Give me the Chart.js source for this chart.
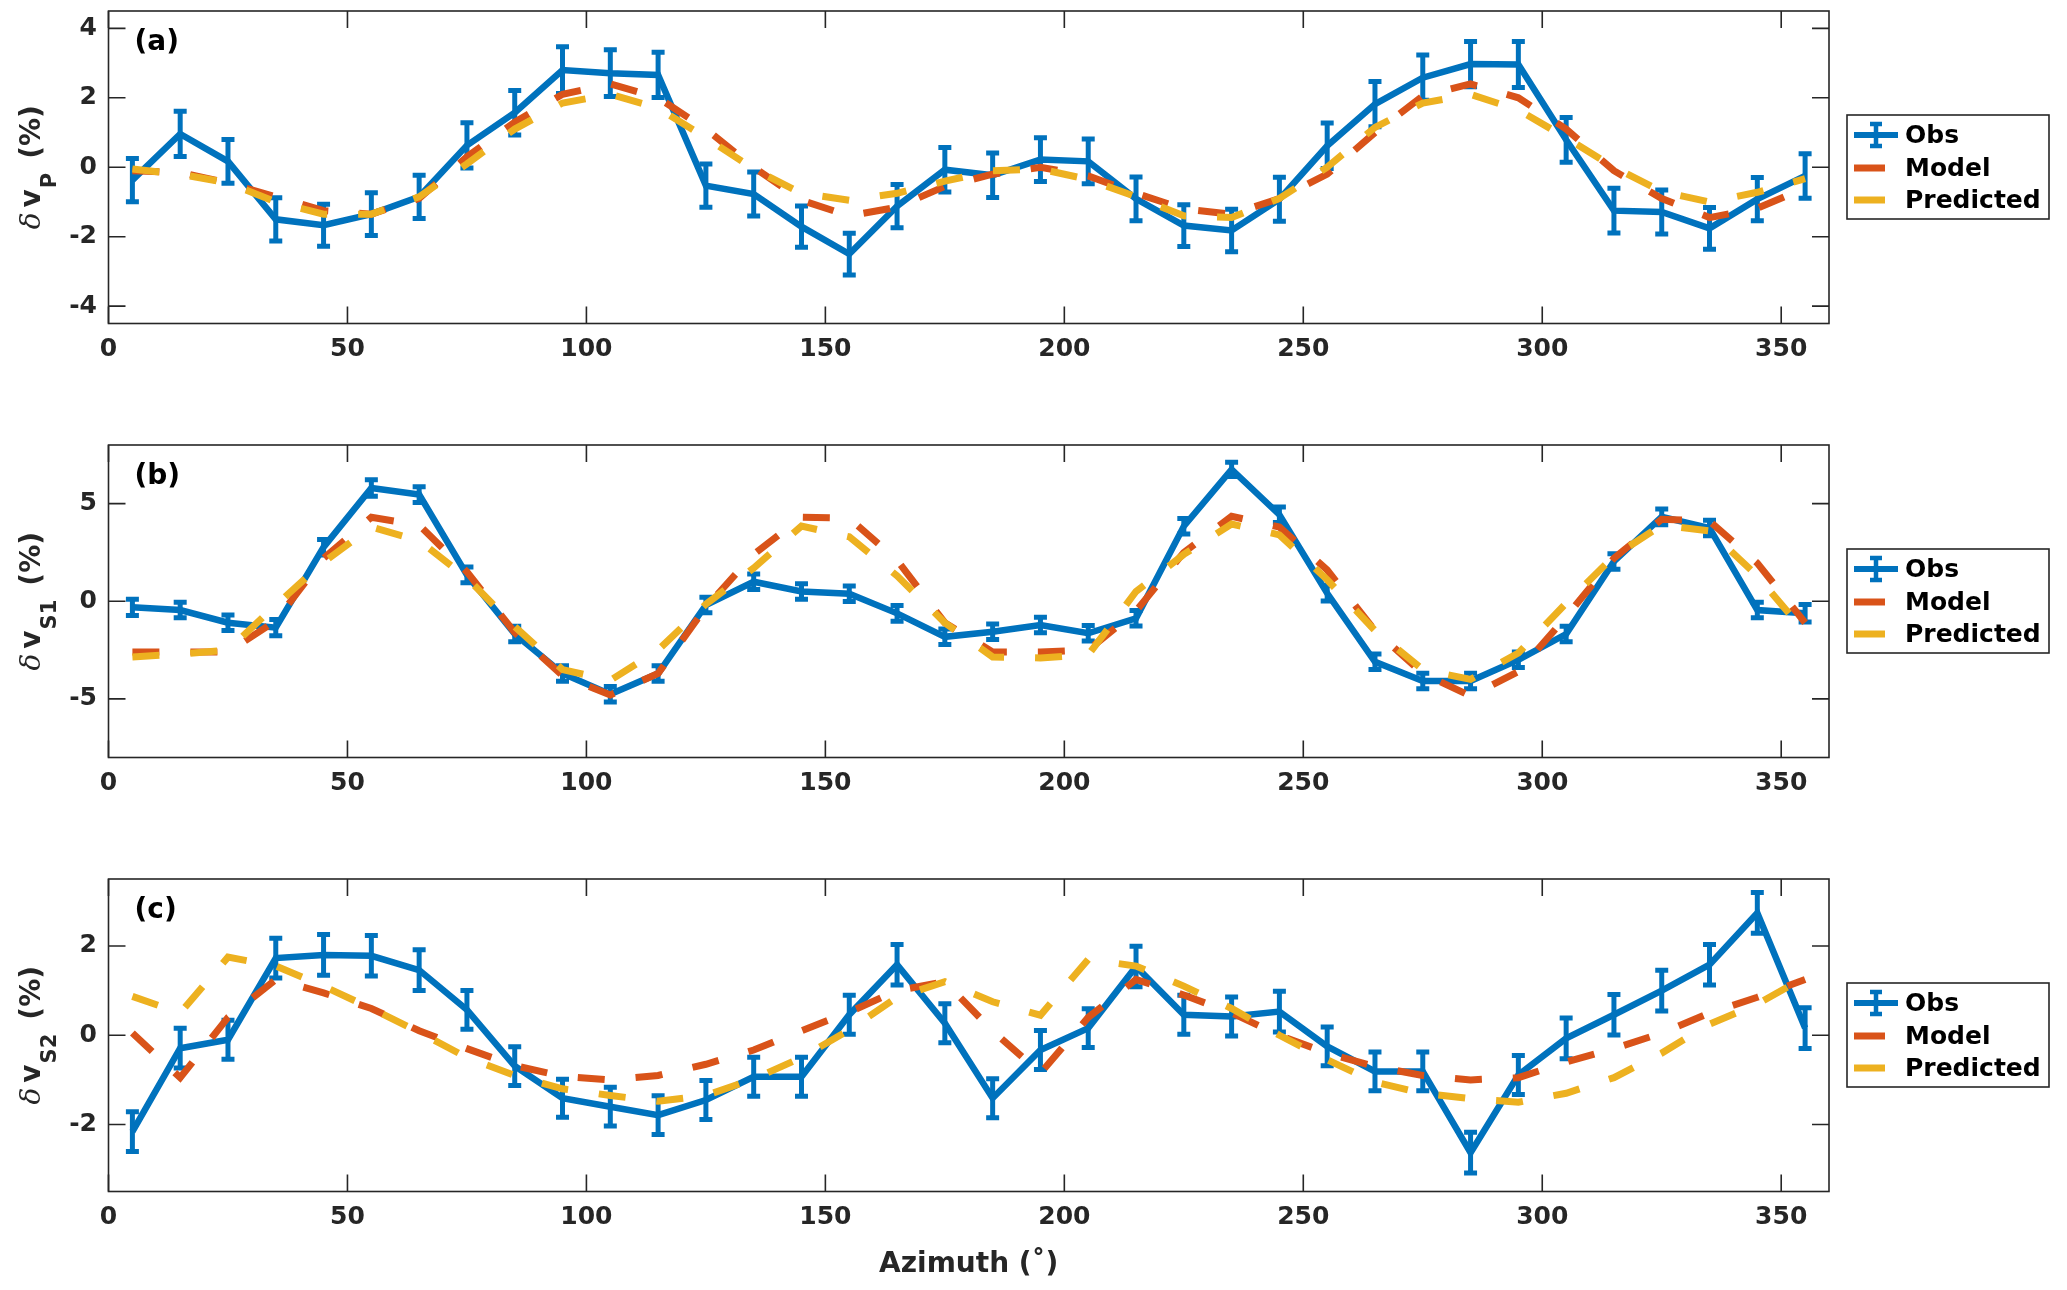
<!DOCTYPE html>
<html><head><meta charset="utf-8">
<script src="https://cdn.jsdelivr.net/npm/chart.js@4.4.1/dist/chart.umd.min.js"></script>
<style>
html,body{margin:0;padding:0;background:#fff;width:2067px;height:1290px;overflow:hidden}
canvas{position:absolute;left:0}
</style></head><body>
<canvas id="ca" width="2067" height="434" style="top:0px"></canvas>
<canvas id="cb" width="2067" height="434" style="top:434px"></canvas>
<canvas id="cc" width="2067" height="422" style="top:868px"></canvas>
<script>
// ---------- data ----------
const azimuth = [5,15,25,35,45,55,65,75,85,95,105,115,125,135,145,155,165,175,185,195,205,215,225,235,245,255,265,275,285,295,305,315,325,335,345,355];
const xTicks = [0,50,100,150,200,250,300,350];

// panel (a) dVp
const obsP   = [-0.37,0.96,0.17,-1.5,-1.67,-1.35,-0.85,0.63,1.57,2.8,2.71,2.66,-0.53,-0.77,-1.71,-2.5,-1.12,-0.07,-0.23,0.22,0.17,-0.91,-1.68,-1.82,-0.92,0.62,1.82,2.58,2.97,2.96,0.79,-1.25,-1.29,-1.76,-0.92,-0.25];
const errP   = [0.68,0.71,0.69,0.68,0.66,0.67,0.68,0.71,0.7,0.73,0.73,0.71,0.68,0.69,0.65,0.66,0.68,0.7,0.7,0.69,0.7,0.69,0.66,0.67,0.69,0.71,0.71,0.71,0.71,0.72,0.7,0.7,0.69,0.66,0.68,0.7];
const modelP = [-0.1,-0.15,-0.45,-0.85,-1.25,-1.35,-0.9,0.3,1.3,2.1,2.4,2.0,1.1,0.0,-0.95,-1.4,-1.15,-0.55,-0.2,0.0,-0.25,-0.75,-1.2,-1.35,-0.9,-0.2,1.0,2.05,2.4,2.0,1.1,-0.1,-0.9,-1.45,-1.18,-0.6];
const predP  = [-0.05,-0.2,-0.45,-1.0,-1.35,-1.35,-0.85,0.1,1.1,1.85,2.1,1.7,0.85,-0.05,-0.75,-0.95,-0.75,-0.4,-0.1,-0.05,-0.35,-0.85,-1.4,-1.45,-0.9,0.0,1.15,1.85,2.1,1.65,0.85,0.0,-0.7,-1.0,-0.72,-0.33];
const yTicksP = [-4,-2,0,2,4];

// panel (b) dVs1
const obsS1   = [-0.31,-0.45,-1.1,-1.35,2.77,5.8,5.46,1.35,-1.68,-3.7,-4.76,-3.7,-0.19,1.0,0.5,0.38,-0.62,-1.82,-1.56,-1.22,-1.64,-0.87,3.84,6.75,4.43,0.41,-3.1,-4.08,-4.08,-3.0,-1.68,2.04,4.32,3.75,-0.45,-0.62];
const errS1   = [0.52,0.5,0.5,0.52,0.5,0.52,0.5,0.5,0.5,0.5,0.5,0.5,0.5,0.5,0.5,0.5,0.5,0.5,0.5,0.5,0.5,0.5,0.5,0.47,0.5,0.5,0.5,0.5,0.5,0.5,0.5,0.5,0.5,0.5,0.5,0.55];
const modelS1 = [-2.6,-2.6,-2.6,-1.0,2.2,4.3,3.9,1.5,-1.6,-3.8,-4.8,-3.7,-0.3,2.4,4.3,4.25,2.1,-1.1,-2.6,-2.6,-2.5,-0.5,2.5,4.35,3.8,1.6,-1.5,-3.7,-4.85,-3.6,-0.8,2.2,4.2,4.1,1.95,-1.1];
const predS1  = [-2.85,-2.7,-2.5,-0.2,2.0,3.8,3.1,1.2,-1.3,-3.5,-4.05,-2.5,-0.15,1.7,3.85,3.3,1.3,-1.1,-2.85,-2.9,-2.75,0.5,2.4,3.95,3.4,1.1,-1.5,-3.5,-4.0,-2.65,-0.1,2.3,3.9,3.6,1.3,-1.6];
const yTicksS1 = [-5,0,5];

// panel (c) dVs2
const obsS2   = [-2.16,-0.29,-0.1,1.73,1.8,1.78,1.46,0.57,-0.69,-1.41,-1.6,-1.79,-1.45,-0.93,-0.93,0.46,1.58,0.27,-1.41,-0.33,0.16,1.54,0.46,0.42,0.53,-0.25,-0.81,-0.81,-2.63,-0.89,-0.07,0.46,1.0,1.58,2.74,0.16];
const errS2   = [0.49,0.49,0.48,0.49,0.5,0.5,0.5,0.48,0.48,0.47,0.48,0.48,0.48,0.48,0.48,0.48,0.5,0.48,0.48,0.48,0.48,0.5,0.48,0.48,0.5,0.48,0.48,0.48,0.5,0.48,0.5,0.5,0.5,0.5,0.5,0.5];
const modelS2 = [0.05,-0.95,0.4,1.25,0.95,0.6,0.1,-0.3,-0.68,-0.92,-1.0,-0.9,-0.65,-0.33,0.1,0.52,1.0,1.2,0.1,-0.85,0.4,1.25,0.9,0.5,0.0,-0.4,-0.7,-0.9,-1.0,-0.95,-0.6,-0.3,0.05,0.5,0.85,1.25];
const predS2  = [0.87,0.5,1.75,1.55,1.1,0.6,0.07,-0.5,-0.9,-1.2,-1.35,-1.48,-1.35,-0.98,-0.5,0.12,0.85,1.2,0.75,0.45,1.7,1.55,1.1,0.6,0.0,-0.55,-1.05,-1.3,-1.42,-1.5,-1.3,-0.95,-0.4,0.25,0.7,1.3];
const yTicksS2 = [-2,0,2];

const seriesNames = ['Obs','Model','Predicted'];
const xLabel = 'Azimuth (˚)';

// ---------- styles ----------
const C_OBS = '#0072BD', C_MOD = '#D95319', C_PRE = '#EDB120';
const AX = '#262626';
const FONT = "'DejaVu Sans', sans-serif";
const PLOT_TOP = 11, PLOT_BOTTOM = 323.5, PLOT_LEFT = 108.5, PLOT_RIGHT = 1829;

const pts = arr => azimuth.map((a, i) => ({x: a, y: arr[i]}));

const errorBars = {
  id: 'errorBars',
  afterDatasetDraw(chart, args) {
    const ds = chart.data.datasets[args.index];
    if (!ds.errors) return;
    const ys = chart.scales.y, ctx = chart.ctx, a = chart.chartArea;
    ctx.save();
    ctx.beginPath(); ctx.rect(a.left, a.top, a.right - a.left, a.bottom - a.top); ctx.clip();
    ctx.strokeStyle = ds.borderColor; ctx.lineWidth = 5; ctx.lineCap = 'butt';
    args.meta.data.forEach((p, i) => {
      const v = ds.data[i].y, e = ds.errors[i];
      const yt = ys.getPixelForValue(v + e), yb = ys.getPixelForValue(v - e);
      ctx.beginPath();
      ctx.moveTo(p.x, yt); ctx.lineTo(p.x, yb);
      ctx.moveTo(p.x - 6.5, yt + 2); ctx.lineTo(p.x + 6.5, yt + 2);
      ctx.moveTo(p.x - 6.5, yb - 2); ctx.lineTo(p.x + 6.5, yb - 2);
      ctx.stroke();
    });
    ctx.restore();
  }
};

const decor = {
  id: 'decor',
  beforeDatasetsDraw(chart) {
    const {ctx, chartArea: a, scales: {x, y}} = chart;
    ctx.save();
    ctx.strokeStyle = AX; ctx.lineWidth = 1.6;
    ctx.beginPath();
    const L = 17;
    x.ticks.forEach(t => { const px = x.getPixelForValue(t.value);
      ctx.moveTo(px, a.bottom); ctx.lineTo(px, a.bottom - L);
      ctx.moveTo(px, a.top); ctx.lineTo(px, a.top + L); });
    y.ticks.forEach(t => { const py = y.getPixelForValue(t.value);
      ctx.moveTo(a.left, py); ctx.lineTo(a.left + L, py);
      ctx.moveTo(a.right, py); ctx.lineTo(a.right - L, py); });
    ctx.stroke();
    ctx.strokeRect(a.left, a.top, a.right - a.left, a.bottom - a.top);
    ctx.restore();
  },
  afterDraw(chart, args, opts) {
    const {ctx, chartArea: a} = chart;
    ctx.save();
    // panel letter
    ctx.fillStyle = '#000';
    ctx.font = "bold 28px " + FONT;
    ctx.textBaseline = 'middle'; ctx.textAlign = 'left';
    ctx.fillText(opts.panel, a.left + 26, a.top + 32);

    // y label (rotated, with subscript)
    ctx.save();
    ctx.translate(39.5, (a.top + a.bottom) / 2);
    ctx.rotate(-Math.PI / 2);
    ctx.fillStyle = AX;
    ctx.textBaseline = 'alphabetic'; ctx.textAlign = 'left';
    const parts = [
      {t: 'δ', f: "italic 28px 'DejaVu Serif', serif", dy: 0, gap: 5},
      {t: 'v', f: "bold 28px " + FONT, dy: 0, gap: 1},
      {t: opts.sub, f: "bold 21px " + FONT, dy: 16, gap: 14},
      {t: '(%)', f: "bold 28px " + FONT, dy: 0, gap: 0}
    ];
    let w = 0;
    parts.forEach(p => { ctx.font = p.f; p.w = ctx.measureText(p.t).width; w += p.w + p.gap; });
    let cx = -w / 2;
    parts.forEach(p => { ctx.font = p.f; ctx.fillText(p.t, cx, p.dy); cx += p.w + p.gap; });
    ctx.restore();

    // legend
    const lx = 1847, ly = a.top + 104, lw = 202, lh = 104;
    ctx.fillStyle = '#fff';
    ctx.fillRect(lx, ly, lw, lh);
    ctx.strokeStyle = AX; ctx.lineWidth = 1.6;
    ctx.strokeRect(lx, ly, lw, lh);
    const rows = [ly + 20, ly + 53, ly + 85];
    const dss = chart.data.datasets;
    ctx.strokeStyle = dss[0].borderColor; ctx.lineWidth = 6; ctx.lineCap = 'butt';
    ctx.beginPath(); ctx.moveTo(lx + 7, rows[0]); ctx.lineTo(lx + 51, rows[0]); ctx.stroke();
    ctx.lineWidth = 4.5;
    ctx.beginPath();
    ctx.moveTo(lx + 29, rows[0] - 12.5); ctx.lineTo(lx + 29, rows[0] + 12.5);
    ctx.moveTo(lx + 23, rows[0] - 11); ctx.lineTo(lx + 35, rows[0] - 11);
    ctx.moveTo(lx + 23, rows[0] + 11); ctx.lineTo(lx + 35, rows[0] + 11);
    ctx.stroke();
    [1, 2].forEach(k => {
      ctx.strokeStyle = dss[k].borderColor; ctx.lineWidth = 7;
      ctx.beginPath(); ctx.moveTo(lx + 7, rows[k]); ctx.lineTo(lx + 38, rows[k]); ctx.stroke();
    });
    ctx.fillStyle = '#000';
    ctx.font = "bold 25px " + FONT;
    ctx.textBaseline = 'middle'; ctx.textAlign = 'left';
    dss.forEach((d, k) => ctx.fillText(d.label, lx + 58, rows[k] + 1));
    ctx.restore();
  }
};

const zeroPad = s => { s.paddingTop = 0; s.paddingBottom = 0; s.paddingLeft = 0; s.paddingRight = 0; };

function makeChart(id, obs, err, model, pred, yTicks, yMin, yMax, panel, sub, showTitle) {
  const canvas = document.getElementById(id);
  const H = canvas.height;
  return new Chart(canvas, {
    type: 'line',
    data: {
      datasets: [
        {label: seriesNames[0], data: pts(obs), errors: err, borderColor: C_OBS, borderWidth: 6.5,
         pointRadius: 0, borderJoinStyle: 'miter', tension: 0, order: 3},
        {label: seriesNames[1], data: pts(model), borderColor: C_MOD, borderWidth: 7, borderDash: [27, 31],
         borderCapStyle: 'butt', pointRadius: 0, tension: 0, order: 2},
        {label: seriesNames[2], data: pts(pred), borderColor: C_PRE, borderWidth: 7, borderDash: [27, 31],
         borderCapStyle: 'butt', pointRadius: 0, tension: 0, order: 1}
      ]
    },
    options: {
      responsive: false, animation: false, devicePixelRatio: 1,
      layout: {padding: {top: PLOT_TOP, right: 2067 - PLOT_RIGHT, left: 0, bottom: 0}},
      plugins: {legend: {display: false}, tooltip: {enabled: false}, decor: {panel, sub}},
      scales: {
        x: {
          type: 'linear', min: 0, max: 360,
          grid: {display: false, drawTicks: false}, border: {display: false},
          afterBuildTicks: s => { s.ticks = xTicks.map(v => ({value: v})); },
          afterFit: s => { s.height = H - PLOT_BOTTOM; zeroPad(s); },
          ticks: {autoSkip: false, maxRotation: 0, padding: 10.5, color: AX,
                  font: {family: FONT, size: 25, weight: 'bold'}},
          title: {display: showTitle, text: xLabel, color: AX, padding: {top: 0, bottom: 8},
                  font: {family: FONT, size: 28, weight: 'bold'}}
        },
        y: {
          type: 'linear', min: yMin, max: yMax,
          grid: {display: false, drawTicks: false}, border: {display: false},
          afterBuildTicks: s => { s.ticks = yTicks.map(v => ({value: v})); },
          afterFit: s => { s.width = PLOT_LEFT; zeroPad(s); },
          ticks: {autoSkip: false, padding: 11.5, color: AX,
                  font: {family: FONT, size: 25, weight: 'bold', lineHeight: 0.7}}
        }
      }
    },
    plugins: [errorBars, decor]
  });
}

makeChart('ca', obsP, errP, modelP, predP, yTicksP, -4.5, 4.5, '(a)', 'P', false);
makeChart('cb', obsS1, errS1, modelS1, predS1, yTicksS1, -8, 8, '(b)', 'S1', false);
makeChart('cc', obsS2, errS2, modelS2, predS2, yTicksS2, -3.5, 3.5, '(c)', 'S2', true);
</script>
</body></html>
